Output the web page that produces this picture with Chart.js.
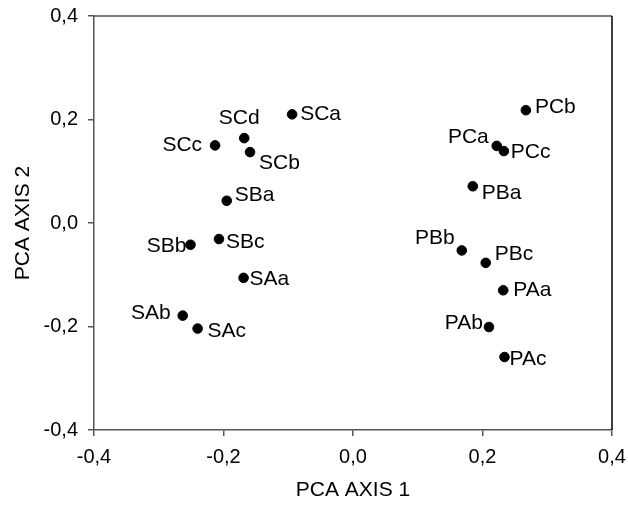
<!DOCTYPE html>
<html>
<head>
<meta charset="utf-8">
<script src="https://cdn.jsdelivr.net/npm/chart.js@4/dist/chart.umd.min.js"></script>
<style>
  html, body { margin: 0; padding: 0; background: #fff; }
  #wrap { width: 628px; height: 506px; }
</style>
</head>
<body>
<div id="wrap"><canvas id="pca" width="628" height="506"></canvas></div>
<script>
// Datos de las muestras (PCA eje 1 / eje 2)
const muestras = ['SCa', 'SCd', 'SCc', 'SCb', 'SBa', 'SBc', 'SBb', 'SAa', 'SAb', 'SAc',
                  'PCb', 'PCa', 'PCc', 'PBa', 'PBb', 'PBc', 'PAa', 'PAb', 'PAc'];
const eje1 = [-0.094, -0.168, -0.213, -0.159, -0.195, -0.207, -0.251, -0.169, -0.263, -0.240,
              0.267, 0.222, 0.233, 0.185, 0.168, 0.205, 0.232, 0.210, 0.234];
const eje2 = [0.210, 0.164, 0.150, 0.137, 0.043, -0.031, -0.042, -0.106, -0.179, -0.204,
              0.218, 0.149, 0.139, 0.071, -0.053, -0.077, -0.130, -0.201, -0.259];
const ticksEje = [-0.4, -0.2, 0.0, 0.2, 0.4];

// Donde va cada etiqueta respecto al punto: [dx, dy, alineacion]
const colocacion = {
    SCa: [8, 0, 'left'],   SCd: [-5, -20, 'center'], SCc: [-13, 0, 'right'],
    SCb: [9, 11, 'left'],  SBa: [8, -6, 'left'],     SBc: [7, 3, 'left'],
    SBb: [-4, 1, 'right'], SAa: [6, 1, 'left'],      SAb: [-12, -2, 'right'],
    SAc: [10, 3, 'left'],  PCb: [9, -3, 'left'],     PCa: [-8, -9, 'right'],
    PCc: [7, 1, 'left'],   PBa: [9, 7, 'left'],      PBb: [-7, -12, 'right'],
    PBc: [9, -9, 'left'],  PAa: [10, 0, 'left'],     PAb: [-6, -4, 'right'],
    PAc: [5, 2, 'left']
};

const fuente = 'Arial, "Liberation Sans", sans-serif';
const coma = v => v.toFixed(1).replace('.', ',');

// Etiquetas de los puntos y marco superior/derecho
const etiquetas = {
    id: 'etiquetas',
    afterDatasetsDraw(chart) {
        const ctx = chart.ctx;
        const meta = chart.getDatasetMeta(0);
        ctx.save();
        ctx.font = '21px ' + fuente;
        ctx.fillStyle = '#000';
        ctx.textBaseline = 'middle';
        meta.data.forEach((pt, i) => {
            const c = colocacion[muestras[i]];
            ctx.textAlign = c[2];
            ctx.fillText(muestras[i], pt.x + c[0], pt.y + c[1]);
        });
        const a = chart.chartArea;
        ctx.lineWidth = 1.5;
        ctx.strokeStyle = '#555';
        ctx.beginPath();
        ctx.moveTo(a.left, a.top);
        ctx.lineTo(a.right, a.top);
        ctx.stroke();
        ctx.strokeStyle = '#000';
        ctx.beginPath();
        ctx.moveTo(a.right, a.top);
        ctx.lineTo(a.right, a.bottom);
        ctx.stroke();
        ctx.restore();
    }
};

new Chart(document.getElementById('pca').getContext('2d'), {
    type: 'scatter',
    data: {
        datasets: [{
            data: muestras.map((m, i) => ({ x: eje1[i], y: eje2[i] })),
            backgroundColor: '#000',
            borderColor: '#000',
            pointRadius: 4.8,
            pointHoverRadius: 4.8
        }]
    },
    options: {
        responsive: false,
        animation: false,
        layout: { padding: { top: 16, right: 16, left: 0, bottom: 0 } },
        plugins: { legend: { display: false }, tooltip: { enabled: false } },
        scales: {
            x: {
                type: 'linear',
                min: -0.4, max: 0.4,
                afterBuildTicks: s => { s.ticks = ticksEje.map(v => ({ value: v })); },
                afterFit: s => { s.height = 76; s.paddingLeft = 0; s.paddingRight = 0; },
                border: { display: true, color: '#555', width: 1.5 },
                grid: { drawOnChartArea: false, tickLength: 6, color: '#555', lineWidth: 1.5 },
                ticks: { callback: v => coma(v), color: '#000', padding: 9, maxRotation: 0,
                         font: { size: 20, family: fuente } },
                title: { display: true, text: 'PCA AXIS 1', color: '#000',
                         padding: { top: 0, bottom: 3 }, font: { size: 21, family: fuente } }
            },
            y: {
                type: 'linear',
                min: -0.4, max: 0.4,
                afterBuildTicks: s => { s.ticks = ticksEje.map(v => ({ value: v })); },
                afterFit: s => { s.width = 94; s.paddingTop = 0; s.paddingBottom = 0; },
                border: { display: true, color: '#555', width: 1.5 },
                grid: { drawOnChartArea: false, tickLength: 6, color: '#555', lineWidth: 1.5 },
                ticks: { callback: v => coma(v), color: '#000', padding: 10,
                         font: { size: 20, family: fuente } },
                title: { display: true, text: 'PCA AXIS 2', color: '#000',
                         padding: { top: 11, bottom: 0 }, font: { size: 21, family: fuente } }
            }
        }
    },
    plugins: [etiquetas]
});
</script>
</body>
</html>
